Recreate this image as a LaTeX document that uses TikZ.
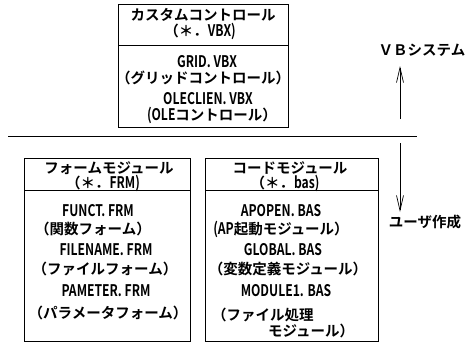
\documentclass[tikz,border=0pt]{standalone}
\usepackage{fontspec}
\setmainfont{Noto Sans CJK JP}[UprightFont={* Bold}]
\newfontfamily\nl{Noto Sans CJK JP}[UprightFont={* Bold},FakeStretch=0.76]
\usetikzlibrary{arrows.meta}
\newcommand{\N}[1]{{\nl\fontsize{16}{16}\selectfont #1}}
\tikzset{
  frame/.style={draw, line width=0.9pt},
  txt/.style={inner sep=0pt, anchor=west, text height=10pt, text depth=2pt, font=\fontsize{14.5}{15}\selectfont},
  txtc/.style={txt, anchor=center},
  rule/.style={line width=0.9pt},
  arr/.style={line width=0.7pt, -{Straight Barb[length=15pt,width=7pt,line width=0.7pt]}}
}
\begin{document}
\begin{tikzpicture}[x=1pt,y=-1pt]
\useasboundingbox (0,0) rectangle (470,345);
% top box
\draw[frame] (118,4) rectangle (288,127);
\draw[frame] (118,45) -- (288,45);
\node[txtc] (t1) at (203,17) {カスタムコントロール};
\node[txtc] (t2) at (200,33) {（＊．\N{VBX)}};
\node[txtc] (t3) at (207,63) {\N{GRID. VBX}};
\node[txtc] (t4) at (203,79) {（グリッドコントロール）};
\node[txtc] (t5) at (208,100) {\N{OLECLIEN. VBX}};
\node[txtc] (t6) at (212,116) {\N{(OLE}コントロール）};
% separator
\draw[rule] (8,136) -- (417,136);
\coordinate (upS) at (400,119);
\coordinate (upE) at (400,66);
\draw[arr] (upS) -- (upE);
\node[txtc] (vb) at (422,52) {ＶＢシステム};
\coordinate (dnS) at (400,143);
\coordinate (dnE) at (400,212);
\draw[arr] (dnS) -- (dnE);
\node[txtc] (us) at (425,223) {ユーザ作成};
% left box
\draw[frame] (24,158) rectangle (190,341);
\draw[frame] (24,190) -- (190,190);
\node[txtc] (l1) at (109,169) {フォームモジュール};
\node[txtc] (l2) at (103,184.5) {（＊．\N{FRM)}};
\node[txt] (l3) at (62,212) {\N{FUNCT. FRM}};
\node[txt] (l4) at (35,230) {（関数フォーム）};
\node[txtc] (l5) at (106,251) {\N{FILENAME. FRM}};
\node[txtc] (l6) at (105,270) {（ファイルフォーム）};
\node[txtc] (l7) at (106,292) {\N{PAMETER. FRM}};
\node[txtc] (l8) at (108,314) {（パラメータフォーム）};
% right box
\draw[frame] (205,158) rectangle (378,341);
\draw[frame] (205,190) -- (378,190);
\node[txtc] (r1) at (290,169) {コードモジュール};
\node[txtc] (r2) at (285,184.5) {（＊．\N{bas)}};
\node[txtc] (r3) at (281,212) {\N{APOPEN. BAS}};
\node[txtc] (r4) at (281,230) {\N{(AP}起動モジュール）};
\node[txtc] (r5) at (283,251) {\N{GLOBAL. BAS}};
\node[txtc] (r6) at (288,270) {（変数定義モジュール）};
\node[txtc] (r7) at (286,292) {\N{MODULE1. BAS}};
\node[txt] (r8) at (212,316) {（ファイル処理};
\node[txt] (r9) at (268,332) {モジュール）};
\end{tikzpicture}
\end{document}
